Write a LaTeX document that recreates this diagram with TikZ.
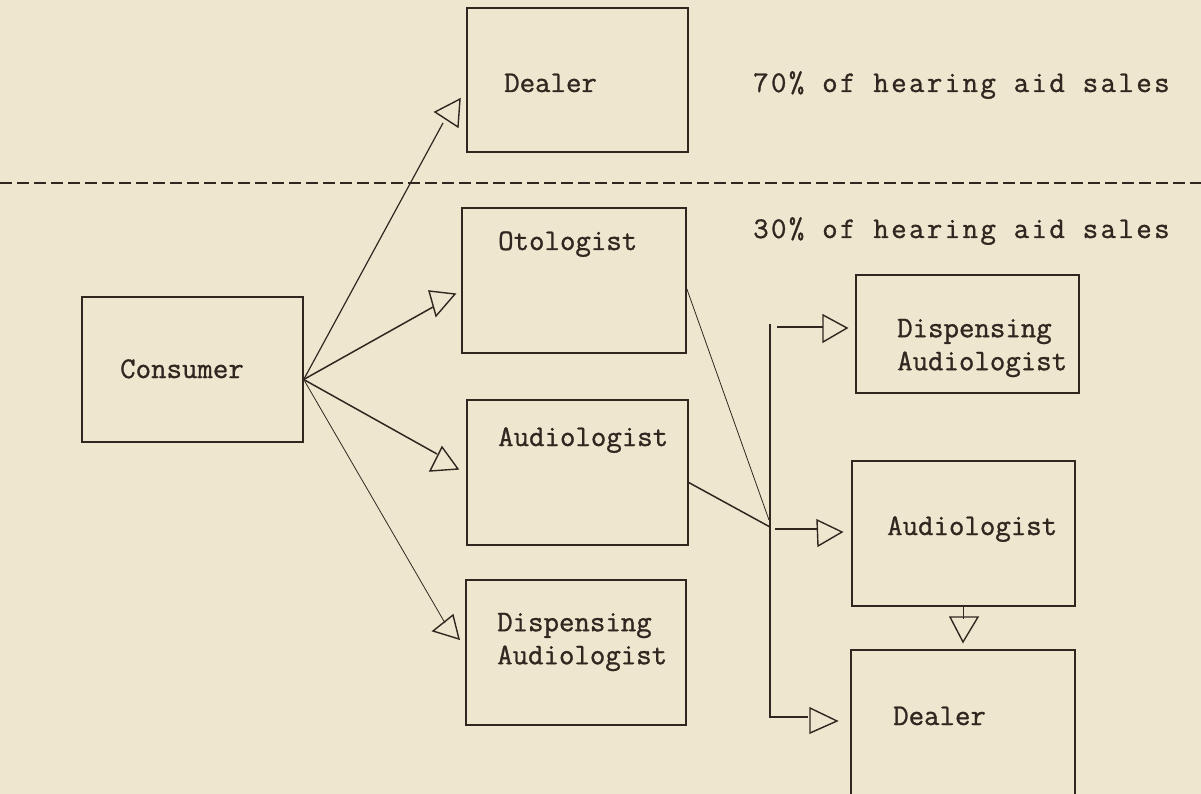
\documentclass[tikz,border=0pt]{standalone}
\usepackage{fontspec}
\setmonofont{Latin Modern Mono}[FakeBold=1]
\newfontfamily\widemono{Latin Modern Mono}[FakeBold=1,LetterSpace=8]
\usepackage{tikz}
\usetikzlibrary{positioning,calc}
\usepackage{xcolor}
\definecolor{paper}{RGB}{239,230,207}
\definecolor{ink}{RGB}{48,40,32}
\tikzset{
  box/.style={draw=ink,line width=1.4pt,inner sep=0pt,fill=none},
  txt/.style={font=\fontsize{30}{33}\selectfont\ttfamily,text=ink,inner sep=0pt,
              align=left},
  share/.style={txt,font=\fontsize{30}{33}\selectfont\widemono},
  link/.style={draw=ink,line width=1.5pt},
  thin/.style={draw=ink,line width=0.8pt},
  head/.style={draw=ink,line width=1.4pt,line join=miter},
  divider/.style={draw=ink,line width=1.8pt,dash pattern=on 12pt off 5pt},
}
\begin{document}
\begin{tikzpicture}[x=1pt,y=-1pt]
  \fill[paper] (0,0) rectangle (1201,794);
  \useasboundingbox (0,0) rectangle (1201,794);
  % boxes
  \node[box,minimum width=221pt,minimum height=144pt] (dealerA) at (577.5,80) {};
  \node[box,minimum width=224pt,minimum height=145pt] (oto) at (574,280.5) {};
  \node[box,minimum width=221pt,minimum height=145pt] (cons) at (192.5,369.5) {};
  \node[box,minimum width=221pt,minimum height=145pt] (aud) at (577.5,472.5) {};
  \node[box,minimum width=220pt,minimum height=145pt] (dispL) at (576,652.5) {};
  \node[box,minimum width=223pt,minimum height=118pt] (dispR) at (967.5,334) {};
  \node[box,minimum width=223pt,minimum height=145pt] (audR) at (963.5,533.5) {};
  \node[box,minimum width=224pt,minimum height=160pt] (dealerB) at (963,730) {};
  % texts
  \node[txt,anchor=base west] (tDealerA) at (504,92) {Dealer};
  \node[share,anchor=base west] (tSeventy) at (753,92) {70\% of hearing aid sales};
  \node[share,anchor=base west] (tThirty) at (753,238) {30\% of hearing aid sales};
  \node[txt,anchor=base west] (tOto) at (498,250) {Otologist};
  \node[txt,anchor=base west] (tCons) at (120,378) {Consumer};
  \node[txt,anchor=base west] (tAud) at (498,446) {Audiologist};
  \node[txt,anchor=west] (tDispL) at (497,642) {Dispensing\\Audiologist};
  \node[txt,anchor=west] (tDispR) at (897,348) {Dispensing\\Audiologist};
  \node[txt,anchor=base west] (tAudR) at (887,535) {Audiologist};
  \node[txt,anchor=base west] (tDealerB) at (893,725) {Dealer};
  % 70/30 split
  \draw[divider] (0,183) -- (1201,183);
  % consumer fan
  \coordinate (fan) at ([yshift=-10pt]cons.east);
  \coordinate (eDealerA) at (443,123);
  \coordinate (eOto) at (433,307);
  \coordinate (eAud) at (437,454);
  \coordinate (eDispL) at (445,623);
  \draw[link,line width=1.2pt] (fan) -- (eDealerA);
  \draw[link] (fan) -- (eOto);
  \draw[link] (fan) -- (eAud);
  \draw[thin] (fan) -- (eDispL);
  \draw[head] (435,112) -- (460,99) -- (458,127) -- cycle;
  \draw[head] (429,291) -- (455,294) -- (436,316) -- cycle;
  \draw[head] (430,471) -- (442,447) -- (458,469) -- cycle;
  \draw[head] (433,631) -- (453,615) -- (459,639) -- cycle;
  % referral bus
  \coordinate (busTop) at (770,324);
  \coordinate (busJoin) at (769,520);
  \coordinate (busEnd) at (808,717);
  \draw[thin] ([yshift=-8pt]oto.east) -- (busJoin);
  \draw[link] ([yshift=-10pt]aud.east) -- (770,527);
  \draw[link] (busTop) -- (busTop |- busEnd) -- (busEnd);
  \draw[link] (777,327) -- (823,327);
  \draw[link] (775,529) -- (817,529);
  \draw[head] (810,708) -- (837,721) -- (810,733) -- cycle;
  \draw[head] (823,315) -- (847,328) -- (823,342) -- cycle;
  \draw[head] (817,520) -- (842,532) -- (818,546) -- cycle;
  % audiologist to dealer
  \draw[link] (audR.south) -- ++(0,12) coordinate (eDown);
  \draw[head] (950,617) -- (978,617) -- (963,642) -- cycle;
\end{tikzpicture}
\end{document}
